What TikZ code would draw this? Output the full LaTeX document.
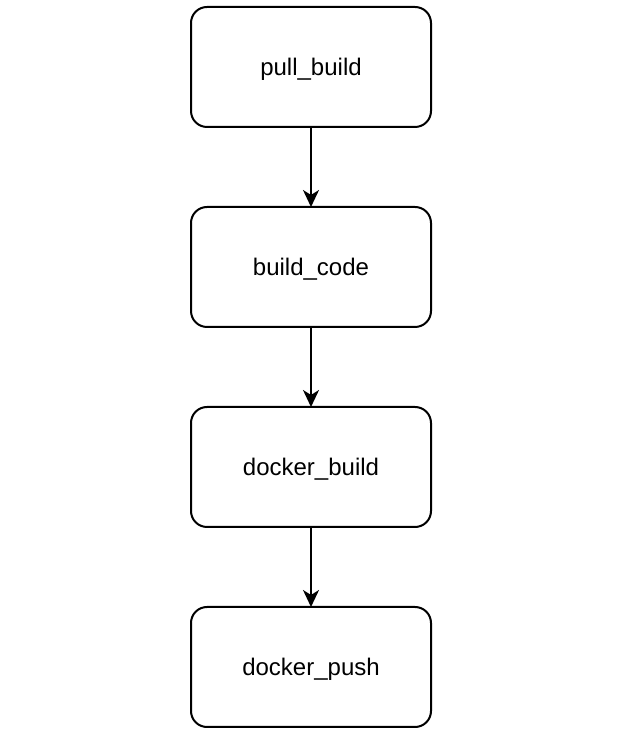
\documentclass[tikz,border=0pt]{standalone}
\usepackage{fontspec}
\setmainfont{Liberation Sans}
\usepackage{tikz}
\usetikzlibrary{positioning,arrows.meta}
\tikzstyle{stage}     = [rectangle, rounded corners=16pt, minimum width=240pt, minimum height=120pt, outer sep=0pt, text height=18pt, text depth=0pt, text centered, draw=black, line width=2pt, font=\fontsize{24pt}{28pt}\selectfont]
\tikzstyle{arrow}     = [line width=2pt,-{Stealth[length=17pt,width=16pt,inset=5pt]}]

\begin{document}
\begin{tikzpicture}
        \useasboundingbox (0,0) rectangle (634pt,744pt);

        \node[stage] (pull) at (311pt,677pt) {pull\_build};
        \node[stage, below=80pt of pull] (code) {build\_code};
        \node[stage, below=80pt of code] (dbuild) {docker\_build};
        \node[stage, below=80pt of dbuild] (dpush) {docker\_push};

        \draw[arrow] (pull) -- (code);
        \draw[arrow] (code) -- (dbuild);
        \draw[arrow] (dbuild) -- (dpush);
    \end{tikzpicture}
\end{document}
